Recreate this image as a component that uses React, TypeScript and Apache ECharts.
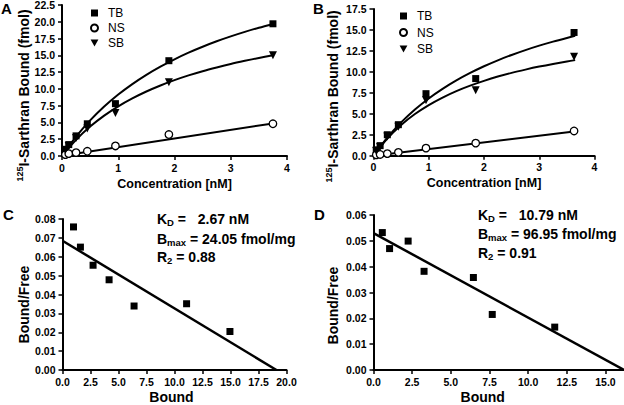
import React, { useEffect, useRef } from 'react';
import * as echarts from 'echarts';

// ---------- Panel A: saturation binding ----------
const CONC_A = [0.06, 0.12, 0.25, 0.45, 0.95, 1.9, 3.75];
const TB_A = [1.0, 1.7, 3.0, 4.8, 7.8, 14.2, 19.7];
const NS_A = [0.2, 0.35, 0.5, 0.7, 1.5, 3.2, 4.8];
const SB_A = [0.9, 1.5, 2.7, 4.1, 6.4, 11.0, 15.0];
const FIT_X_A = [0, 0.25, 0.5, 0.75, 1, 1.25, 1.5, 1.75, 2, 2.25, 2.5, 2.75, 3, 3.25, 3.5, 3.75];
const TB_FIT_A = [0, 2.87, 5.3, 7.37, 9.16, 10.72, 12.1, 13.32, 14.41, 15.4, 16.28, 17.09, 17.82, 18.49, 19.11, 19.68];
const SB_FIT_A = [0, 2.41, 4.38, 6.01, 7.4, 8.58, 9.61, 10.51, 11.3, 12.01, 12.64, 13.2, 13.72, 14.18, 14.61, 15.0];
const NS_FIT_X_A = [0, 3.75];
const NS_FIT_A = [0.05, 4.85];

// ---------- Panel B: saturation binding ----------
const CONC_B = [0.05, 0.12, 0.25, 0.45, 0.95, 1.85, 3.63];
const TB_B = [0.7, 1.2, 2.5, 3.7, 7.4, 9.2, 14.7];
const NS_B = [0.1, 0.15, 0.25, 0.4, 0.9, 1.5, 2.95];
const SB_B = [0.55, 1.05, 2.3, 3.45, 6.6, 7.8, 11.8];
const FIT_X_B = [0, 0.25, 0.5, 0.75, 1, 1.25, 1.5, 1.75, 2, 2.25, 2.5, 2.75, 3, 3.25, 3.5, 3.65];
const TB_FIT_B = [0, 2.16, 3.97, 5.51, 6.83, 7.97, 8.98, 9.87, 10.67, 11.38, 12.02, 12.6, 13.13, 13.61, 14.05, 14.3];
const SB_FIT_B = [0, 2.05, 3.67, 4.97, 6.04, 6.94, 7.71, 8.36, 8.93, 9.44, 9.88, 10.27, 10.63, 10.95, 11.24, 11.4];
const NS_FIT_X_B = [0, 3.63];
const NS_FIT_B = [0.0, 2.9];

// ---------- Panel C: Scatchard ----------
const BOUND_C = [0.98, 1.6, 2.73, 4.16, 6.39, 11.08, 14.95];
const BF_C = [0.0758, 0.0651, 0.0555, 0.0478, 0.0339, 0.0351, 0.0204];
const LINE_X_C = [0, 19.1];
const LINE_Y_C = [0.0685, 0];

// ---------- Panel D: Scatchard ----------
const BOUND_D = [0.57, 1.04, 2.24, 3.27, 6.46, 7.68, 11.72];
const BF_D = [0.0532, 0.047, 0.0499, 0.0382, 0.0358, 0.0215, 0.0166];
const LINE_X_D = [0, 16.2];
const LINE_Y_D = [0.053, 0];

// ---------- Tick labels ----------
const TICKS_X_AB = [0, 1, 2, 3, 4];
const TICKS_Y_A = [0, 2.5, 5, 7.5, 10, 12.5, 15, 17.5, 20, 22.5];
const TICKS_Y_B = [0, 2.5, 5, 7.5, 10, 12.5, 15, 17.5];
const TICKS_X_C = [0, 2.5, 5, 7.5, 10, 12.5, 15, 17.5, 20];
const TICKS_Y_C = [0, 0.01, 0.02, 0.03, 0.04, 0.05, 0.06, 0.07, 0.08];
const TICKS_X_D = [0, 2.5, 5, 7.5, 10, 12.5, 15];
const TICKS_Y_D = [0, 0.01, 0.02, 0.03, 0.04, 0.05, 0.06];

const LEGEND_NAMES = ['TB', 'NS', 'SB'];
const KD_C = '2.67';
const BMAX_C = '24.05';
const R2_C = '0.88';
const KD_D = '10.79';
const BMAX_D = '96.95';
const R2_D = '0.91';

const FONT = '"Liberation Sans", Arial, Helvetica, sans-serif';
const SQUARE = 'path://M0,0L10,0L10,10L0,10Z';
const CIRCLE = 'path://M10,5A5,5,0,1,1,0,5A5,5,0,1,1,10,5Z';
const TRI_DOWN = 'path://M0,0L10,0L5,9Z';

const zip = (xs: number[], ys: number[]) => xs.map((x, i) => [x, ys[i]]);

function xAxis(gridIndex: number, min: number, max: number, interval: number, ticks: number[], digits: number, name: string, nameGap: number, namePad: number[], nameSize: number) {
  return {
    type: 'value',
    gridIndex,
    min,
    max,
    interval,
    name,
    nameLocation: 'middle',
    nameGap,
    nameTextStyle: { color: '#000', fontWeight: 'bold', fontSize: nameSize, fontFamily: FONT, padding: namePad },
    splitLine: { show: false },
    axisLine: { onZero: false, lineStyle: { color: '#000', width: 2 } },
    axisTick: { show: true, length: 4, customValues: ticks, lineStyle: { color: '#000', width: 1.5 } },
    axisLabel: {
      customValues: ticks,
      color: '#000',
      fontWeight: 'bold',
      fontSize: 10.5,
      fontFamily: FONT,
      margin: 6,
      formatter: (v: number) => v.toFixed(digits),
    },
  };
}

function yAxis(gridIndex: number, min: number, max: number, interval: number, ticks: number[], digits: number, name: string, nameGap: number, rich: any) {
  return {
    type: 'value',
    gridIndex,
    min,
    max,
    interval,
    name,
    nameLocation: 'middle',
    nameRotate: 90,
    nameGap,
    nameTextStyle: { color: '#000', fontWeight: 'bold', fontSize: 14, fontFamily: FONT, rich },
    splitLine: { show: false },
    axisLine: { onZero: false, lineStyle: { color: '#000', width: 2 } },
    axisTick: { show: true, length: 4, customValues: ticks, lineStyle: { color: '#000', width: 1.5 } },
    axisLabel: {
      customValues: ticks,
      color: '#000',
      fontWeight: 'bold',
      fontSize: 10.5,
      fontFamily: FONT,
      margin: 7,
      formatter: (v: number) => v.toFixed(digits),
    },
  };
}

const titleRich = (gap: number) => ({
  sup: { fontSize: 9, fontWeight: 'bold', fontFamily: FONT, color: '#000', verticalAlign: 'top', lineHeight: 16 },
  t: { fontSize: 14, fontWeight: 'bold', fontFamily: FONT, color: '#000', lineHeight: 16 },
  gap: { width: gap, fontSize: 14, lineHeight: 16 },
});

const annRich = {
  b: { fontSize: 14, fontWeight: 'bold', fontFamily: FONT, fill: '#000', lineHeight: 17 },
  s: { fontSize: 9.5, fontWeight: 'bold', fontFamily: FONT, fill: '#000', verticalAlign: 'bottom', lineHeight: 17 },
};

function annText(x: number, y: number, text: string) {
  return {
    type: 'text',
    x,
    y,
    style: { text, rich: annRich, verticalAlign: 'middle', fill: '#000', font: `bold 14px ${FONT}` },
  };
}

function letter(x: number, y: number, text: string) {
  return {
    type: 'text',
    x,
    y,
    style: { text, fill: '#000', font: `bold 15px ${FONT}` },
  };
}

function scatter(name: string, xi: number, data: number[][], symbol: string, size: number, hollow = false) {
  return {
    type: 'scatter',
    name,
    xAxisIndex: xi,
    yAxisIndex: xi,
    data,
    symbol,
    symbolSize: size,
    z: 5,
    itemStyle: hollow
      ? { color: '#fff', borderColor: '#000', borderWidth: 1.3, opacity: 1 }
      : { color: '#000', opacity: 1 },
    emphasis: { disabled: true },
  };
}

function fitLine(name: string, xi: number, data: number[][], width = 2) {
  return {
    type: 'line',
    name,
    xAxisIndex: xi,
    yAxisIndex: xi,
    data,
    symbol: 'none',
    showSymbol: false,
    smooth: 0.3,
    z: 3,
    lineStyle: { color: '#000', width },
    emphasis: { disabled: true },
  };
}

export default function App() {
  const ref = useRef<HTMLDivElement>(null);
  useEffect(() => {
    if (!ref.current) return;
    const chart = echarts.init(ref.current, undefined, { renderer: 'svg' });
    const legendData = [
      { name: LEGEND_NAMES[0], icon: SQUARE },
      { name: LEGEND_NAMES[1], icon: CIRCLE },
      { name: LEGEND_NAMES[2], icon: TRI_DOWN },
    ];
    const legendCommon = {
      orient: 'vertical',
      data: legendData,
      itemWidth: 17,
      itemHeight: 7,
      itemGap: 1,
      padding: 0,
      symbolKeepAspect: true,
      selectedMode: false,
      textStyle: { color: '#000', fontSize: 12, fontFamily: FONT, lineHeight: 14 },
    };
    const option: any = {
      animation: false,
      backgroundColor: '#fff',
      textStyle: { fontFamily: FONT },
      grid: [
        { left: 62, top: 5, width: 225, height: 151, containLabel: false, outerBoundsMode: 'none' },
        { left: 373.5, top: 9, width: 221, height: 146.7, containLabel: false, outerBoundsMode: 'none' },
        { left: 62.5, top: 219, width: 224, height: 151, containLabel: false, outerBoundsMode: 'none' },
        { left: 373.5, top: 215, width: 250.5, height: 155, containLabel: false, outerBoundsMode: 'none' },
      ],
      xAxis: [
        xAxis(0, 0, 4, 1, TICKS_X_AB, 0, 'Concentration [nM]', 21, [0, 0, 0, 0], 12.5),
        xAxis(1, 0, 4, 1, TICKS_X_AB, 0, 'Concentration [nM]', 21, [0, 0, 0, 0], 12.5),
        xAxis(2, 0, 20, 2.5, TICKS_X_C, 1, 'Bound', 20, [0, 6, 0, 0], 14),
        xAxis(3, 0, 16.2, 2.5, TICKS_X_D, 1, 'Bound', 20, [0, 32, 0, 0], 14),
      ],
      yAxis: [
        yAxis(0, 0, 22.5, 2.5, TICKS_Y_A, 1, '{sup|125}{t|I-Sarthran Bound (fmol)}{gap| }', 29, titleRich(30)),
        yAxis(1, 0, 17.5, 2.5, TICKS_Y_B, 1, '{sup|125}{t|I-Sarthran Bound (fmol)}{gap| }', 33, titleRich(28)),
        yAxis(2, 0, 0.08, 0.01, TICKS_Y_C, 2, '{t|Bound/Free}{gap| }', 31, titleRich(20)),
        yAxis(3, 0, 0.06, 0.01, TICKS_Y_D, 2, '{t|Bound/Free}{gap| }', 33, titleRich(26)),
      ],
      legend: [
        { ...legendCommon, left: 90, top: 6 },
        { ...legendCommon, left: 399, top: 9, itemGap: 2.5 },
      ],
      series: [
        fitLine('TB fit A', 0, zip(FIT_X_A, TB_FIT_A)),
        fitLine('SB fit A', 0, zip(FIT_X_A, SB_FIT_A)),
        fitLine('NS fit A', 0, zip(NS_FIT_X_A, NS_FIT_A)),
        scatter('TB', 0, zip(CONC_A, TB_A), 'rect', 7),
        scatter('NS', 0, zip(CONC_A, NS_A), 'circle', 7.5, true),
        scatter('SB', 0, zip(CONC_A, SB_A), TRI_DOWN, 8),

        fitLine('TB fit B', 1, zip(FIT_X_B, TB_FIT_B)),
        fitLine('SB fit B', 1, zip(FIT_X_B, SB_FIT_B)),
        fitLine('NS fit B', 1, zip(NS_FIT_X_B, NS_FIT_B)),
        scatter('TB', 1, zip(CONC_B, TB_B), 'rect', 7),
        scatter('NS', 1, zip(CONC_B, NS_B), 'circle', 7.5, true),
        scatter('SB', 1, zip(CONC_B, SB_B), TRI_DOWN, 8),

        fitLine('Fit C', 2, zip(LINE_X_C, LINE_Y_C), 2.5),
        scatter('Scatchard C', 2, zip(BOUND_C, BF_C), 'rect', 7),

        fitLine('Fit D', 3, zip(LINE_X_D, LINE_Y_D), 2.5),
        scatter('Scatchard D', 3, zip(BOUND_D, BF_D), 'rect', 7),
      ],
      graphic: [
        letter(1, 1, 'A'),
        letter(313, 1, 'B'),
        letter(3, 207, 'C'),
        letter(314, 207, 'D'),
        annText(157, 219, `{b|K}{s|D}{b| =   ${KD_C} nM}`),
        annText(157, 239, `{b|B}{s|max}{b| = ${BMAX_C} fmol/mg}`),
        annText(157, 257, `{b|R}{s|2}{b| = ${R2_C}}`),
        annText(478, 215, `{b|K}{s|D}{b| =   ${KD_D} nM}`),
        annText(478, 234, `{b|B}{s|max}{b| = ${BMAX_D} fmol/mg}`),
        annText(478, 253, `{b|R}{s|2}{b| = ${R2_D}}`),
      ],
    };
    chart.setOption(option);
    return () => chart.dispose();
  }, []);
  return (
    <div
      ref={ref}
      style={{ position: 'fixed', left: 0, top: 0, width: 624, height: 405, background: '#fff' }}
    />
  );
}
